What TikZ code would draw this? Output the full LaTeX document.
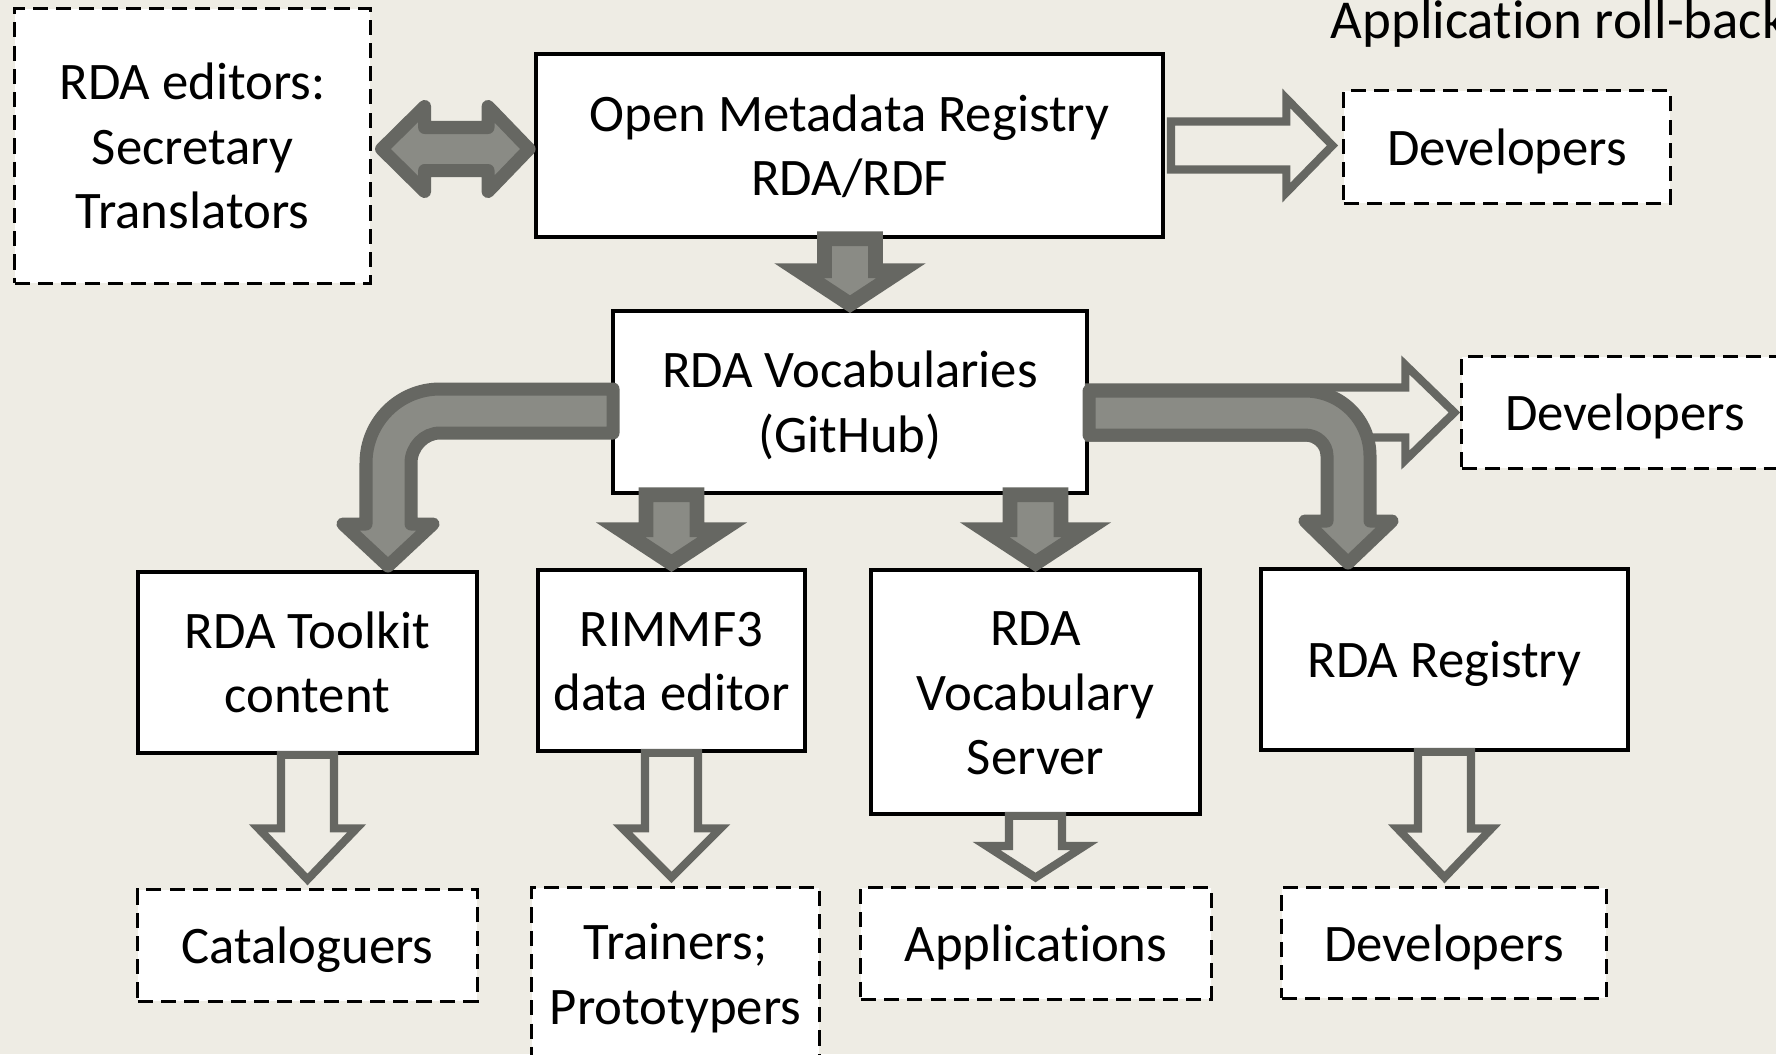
\documentclass[tikz,border=0pt]{standalone}
\usepackage{fontspec}
\setmainfont{Carlito}[Ligatures={NoCommon,NoContextual}]
\usetikzlibrary{calc}
\definecolor{bgcol}{RGB}{238,236,228}
\definecolor{arrowline}{RGB}{102,103,98}
\definecolor{arrowfill}{RGB}{138,139,133}

\begin{document}
\begin{tikzpicture}[x=0.01cm, y=-0.01cm,
  every node/.style={font=\fontsize{15pt}{18.35pt}\selectfont},
  box/.style={draw, fill=white, line width=1pt, align=center, inner sep=0pt,
    text height=14.28pt, text depth=4.03pt},
  dbox/.style={box, line width=0.85pt, dash pattern=on 4.3pt off 2.3pt},
  twolines/.style={text height=32.63pt},
  threelines/.style={text height=50.98pt},
  fatarrow/.style={draw=arrowline, fill=arrowfill, line width=3.7pt, line join=round},
  downarrow/.style={draw=arrowline, fill=arrowfill, line width=4.2pt, line join=miter},
  openarrow/.style={draw=arrowline, fill=bgcol, line width=2.3pt, line join=miter}]

  \fill[bgcol] (0,0) rectangle (1776,1054);
  \useasboundingbox (0,0) rectangle (1776,1054);

  \node[dbox, threelines, minimum width=3.55cm, minimum height=2.74cm] (editors) at (192.5,146) {RDA editors:\\Secretary\\Translators};
  \node[box, twolines, minimum width=6.27cm, minimum height=1.83cm] (omr) at (849.5,145.5) {Open Metadata Registry\\RDA/RDF};
  \node[dbox, minimum width=3.26cm, minimum height=1.12cm] (devtop) at (1507,147) {Developers};
  \node[box, twolines, minimum width=4.74cm, minimum height=1.82cm] (vocab) at (850,402) {RDA Vocabularies\\(GitHub)};
  \node[dbox, minimum width=3.26cm, minimum height=1.11cm] (devright) at (1625,412.5) {Developers};
  \node[box, twolines, minimum width=3.39cm, minimum height=1.81cm] (toolkit) at (307.5,662.5) {RDA Toolkit\\content};
  \node[box, twolines, minimum width=2.67cm, minimum height=1.81cm] (rimmf) at (671.5,660.5) {RIMMF3\\data editor};
  \node[box, threelines, minimum width=3.29cm, minimum height=2.44cm] (server) at (1035.5,692) {RDA\\Vocabulary\\Server};
  \node[box, minimum width=3.67cm, minimum height=1.81cm] (registry) at (1444.5,659.5) {RDA Registry};
  \node[dbox, minimum width=3.39cm, minimum height=1.11cm] (catal) at (307.5,945.5) {Cataloguers};
  \node[dbox, twolines, minimum width=2.87cm, minimum height=1.72cm] (trainers) at (675.5,974) {Trainers;\\Prototypers};
  \node[dbox, minimum width=3.50cm, minimum height=1.11cm] (apps) at (1036,943.5) {Applications};
  \node[dbox, minimum width=3.24cm, minimum height=1.10cm] (devbot) at (1444,943) {Developers};
  \node[anchor=base west, inner sep=0pt, font=\fontsize{15.6pt}{19pt}\selectfont] (rollback) at (1330,38) {Application roll-back};

  \draw[fatarrow] let \p1=([yshift=-0.03cm]editors.east), \p2=(omr.west) in
    (\x1+0.1cm,\y1) -- (\x1+0.53cm,\y1+0.425cm) -- (\x1+0.53cm,\y1+0.215cm)
    -- (\x2-0.46cm,\y1+0.215cm) -- (\x2-0.46cm,\y1+0.425cm) -- (\x2-0.05cm,\y1)
    -- (\x2-0.46cm,\y1-0.425cm) -- (\x2-0.46cm,\y1-0.215cm)
    -- (\x1+0.53cm,\y1-0.215cm) -- (\x1+0.53cm,\y1-0.425cm) -- cycle;

  \draw[openarrow] let \p1=(omr.east), \p2=(devtop.west) in
    (\x1+0.06cm,\y1+0.24cm) -- (\x2-0.56cm,\y1+0.24cm) -- (\x2-0.56cm,\y1+0.47cm)
    -- (\x2-0.1cm,\y1) -- (\x2-0.56cm,\y1-0.47cm) -- (\x2-0.56cm,\y1-0.24cm)
    -- (\x1+0.06cm,\y1-0.24cm) -- cycle;

  \draw[openarrow] let \p1=(vocab.east), \p2=(devright.west) in
    (\x1,\y2+0.25cm) -- (\x2-0.55cm,\y2+0.25cm) -- (\x2-0.55cm,\y2+0.475cm)
    -- (\x2-0.06cm,\y2) -- (\x2-0.55cm,\y2-0.475cm) -- (\x2-0.55cm,\y2-0.25cm)
    -- (\x1,\y2-0.25cm) -- cycle;

  \foreach \a/\b in {omr/vocab, vocab/rimmf, vocab/server}
    \draw[downarrow] let \p1=(\a.south), \p2=(\b.north) in
      (\x2-0.255cm,\y1) -- (\x2-0.255cm,\y2+0.385cm) -- (\x2-0.51cm,\y2+0.385cm)
      -- (\x2,\y2+0.05cm) -- (\x2+0.51cm,\y2+0.385cm) -- (\x2+0.255cm,\y2+0.385cm)
      -- (\x2+0.255cm,\y1) -- cycle;

  \foreach \a/\b/\hw/\hl in {toolkit/catal/0.49cm/0.6cm, rimmf/trainers/0.49cm/0.58cm,
      server/apps/0.49cm/0.405cm, registry/devbot/0.47cm/0.58cm}
    \draw[openarrow] let \p1=(\a.south), \p2=(\b.north) in
      (\x1-0.265cm,\y1) -- (\x1-0.265cm,\y2+\hl) -- (\x1-\hw,\y2+\hl)
      -- (\x1,\y2+0.09cm) -- (\x1+\hw,\y2+\hl) -- (\x1+0.265cm,\y2+\hl)
      -- (\x1+0.265cm,\y1) -- cycle;

  \draw[fatarrow] (613,389) -- (440,389) .. controls (399,389) and (366,422) .. (366,463)
    -- (366,524) -- (343,524) -- (388,566) -- (433,524) -- (411,524) -- (411,463)
    .. controls (411,447) and (424,433) .. (440,433) -- (613,433) -- cycle;

  \draw[fatarrow] (1089,391) -- (1305,391) .. controls (1341,391) and (1370,420) .. (1370,456)
    -- (1370,521) -- (1392,521) -- (1348,563) -- (1305,521) -- (1327,521) -- (1327,456)
    .. controls (1327,444) and (1317,435) .. (1305,435) -- (1089,435) -- cycle;
\end{tikzpicture}
\end{document}
